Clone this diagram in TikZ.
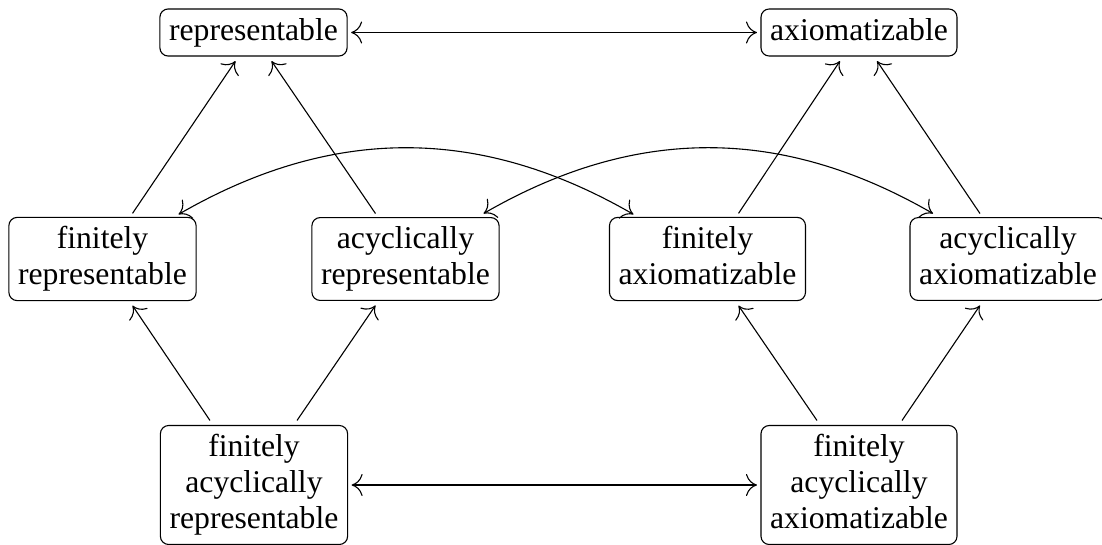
\documentclass[tikz,border=0pt]{standalone}
\usepackage{fontspec}
\setmainfont{Liberation Serif}
\usetikzlibrary{calc,arrows.meta}
\begin{document}
\begin{tikzpicture}[x=0.363pt,y=-0.363pt,
  >={To[length=4pt,width=8pt]},
  box/.style={draw, rounded corners=3pt, align=center,
    font=\fontsize{11.5}{13}\selectfont, inner sep=3.33pt, outer sep=0pt,
    execute at end node={\vphantom{p}}},
  one/.style={box, minimum height=16.3pt},
  two/.style={box, minimum height=29.8pt},
  three/.style={box, minimum height=42.1pt},
  imp/.style={->},
  equiv/.style={<->}]
\useasboundingbox (0,0) rectangle (1102,545);

% top row
\node[one] (rep) at (253.5,32.5) {representable};
\node[one] (ax)  at (859,32.5)   {axiomatizable};
% middle row
\node[two] (fr) at (102.5,259) {finitely\\representable};
\node[two] (ar) at (405.5,259) {acyclically\\representable};
\node[two] (fa) at (707.5,259) {finitely\\axiomatizable};
\node[two] (aa) at (1008,259)  {acyclically\\axiomatizable};
% bottom row
\node[three] (far) at (254,485) {finitely\\acyclically\\representable};
\node[three] (fax) at (859,485) {finitely\\acyclically\\axiomatizable};

% equivalences
\draw[equiv] ($(rep.east)+(4,0)$) -- ($(ax.west)+(-4,0)$);
\draw[equiv] ($(far.east)+(4,0)$) -- ($(fax.west)+(-4,0)$);
\draw[equiv] ($(fr.north)+(76,-3)$) to[bend left=30] ($(fa.north)+(-74,-3)$);
\draw[equiv] ($(ar.north)+(78,-4)$) to[bend left=30] ($(aa.north)+(-75,-4)$);

% middle row up to top row
\draw[imp] ($(fr.north)+(30,-4)$)  -- ($(rep.south)+(-18,5)$);
\draw[imp] ($(ar.north)+(-30,-4)$) -- ($(rep.south)+(18,5)$);
\draw[imp] ($(fa.north)+(31,-4)$)  -- ($(ax.south)+(-19,5)$);
\draw[imp] ($(aa.north)+(-28,-4)$) -- ($(ax.south)+(18,5)$);

% bottom row up to middle row
\draw[imp] ($(far.north)+(-44,-5)$) -- ($(fr.south)+(30,5)$);
\draw[imp] ($(far.north)+(43,-5)$)  -- ($(ar.south)+(-30,5)$);
\draw[imp] ($(fax.north)+(-42,-5)$) -- ($(fa.south)+(31,5)$);
\draw[imp] ($(fax.north)+(43,-5)$)  -- ($(aa.south)+(-28,5)$);
\end{tikzpicture}
\end{document}
